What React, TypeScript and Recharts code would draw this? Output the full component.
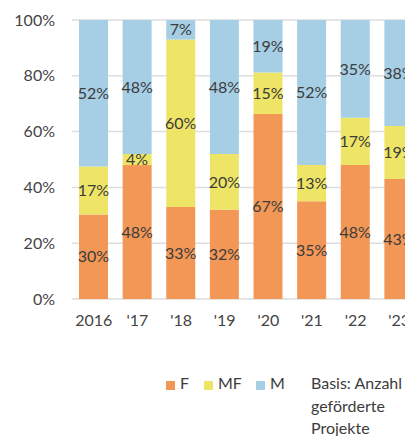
import React from 'react';
import { BarChart, Bar, XAxis, YAxis, CartesianGrid, LabelList } from 'recharts';

const years = ['2016', "'17", "'18", "'19", "'20", "'21", "'22", "'23"];
const fValues = [30, 48, 33, 32, 67, 35, 48, 43];
const mfValues = [17, 4, 60, 20, 15, 13, 17, 19];
const mValues = [52, 48, 7, 48, 19, 52, 35, 38];
const yTicks = [0, 0.2, 0.4, 0.6, 0.8, 1];
const seriesNames = ['F', 'MF', 'M'];
const seriesColors = ['#F39757', '#EEE566', '#A6CEE4'];
const noteLines = ['Basis: Anzahl', 'geförderte', 'Projekte'];

const data = years.map((year, i) => ({
  year,
  F: fValues[i],
  MF: mfValues[i],
  M: mValues[i],
}));

const FONT = 'Lato, "Open Sans", sans-serif';
const WEIGHT = 400;

const LegendBlock = () => {
  const offsets = [0, 38, 90];
  return (
    <div style={{ position: 'absolute', top: 364, left: 158, width: 250, height: 64, fontFamily: FONT, fontWeight: WEIGHT, fontSize: 16, color: '#3c3c3c', lineHeight: '22.5px' }}>
      {seriesNames.map((name, i) => (
        <div key={name} style={{ position: 'absolute', left: offsets[i], top: 0, display: 'flex', alignItems: 'center', height: 23 }}>
          <span style={{ display: 'inline-block', width: 9, height: 9, background: seriesColors[i], marginRight: 5, marginTop: 4 }} />
          <span>{name}</span>
        </div>
      ))}
      <div style={{ position: 'absolute', left: 145, top: 0, whiteSpace: 'nowrap' }}>
        {noteLines.map((l) => (
          <div key={l}>{l}</div>
        ))}
      </div>
    </div>
  );
};

export default function App() {
  return (
    <div style={{ width: 405, height: 428, overflow: 'hidden', position: 'relative' }}>
      <BarChart
        width={413}
        height={428}
        data={data}
        stackOffset="expand"
        barSize={29}
        margin={{ top: 12, right: 0, left: 0, bottom: 107 }}
      >
        <CartesianGrid vertical={false} stroke="#dedede" strokeWidth={1.5} />
        <XAxis
          dataKey="year"
          height={30}
          tickLine={false}
          axisLine={false}
          tickMargin={10}
          interval={0}
          tick={{ fontFamily: FONT, fontWeight: WEIGHT, fontSize: 16, fill: '#444' }}
        />
        <YAxis
          width={64}
          ticks={yTicks}
          domain={[0, 1]}
          tickFormatter={(v: number) => `${Math.round(v * 100)}%`}
          tickLine={false}
          axisLine={false}
          tickMargin={11}
          tick={{ fontFamily: FONT, fontWeight: WEIGHT, fontSize: 16, fill: '#444' }}
        />
        {seriesNames.map((name, i) => (
          <Bar key={name} dataKey={name} stackId="a" fill={seriesColors[i]} isAnimationActive={false}>
            <LabelList
              dataKey={name}
              position="center"
              formatter={(v: number) => `${v}%`}
              style={{ fontFamily: FONT, fontWeight: WEIGHT, fontSize: 16, fill: '#3c3c3c' }}
            />
          </Bar>
        ))}
      </BarChart>
      <LegendBlock />
    </div>
  );
}
